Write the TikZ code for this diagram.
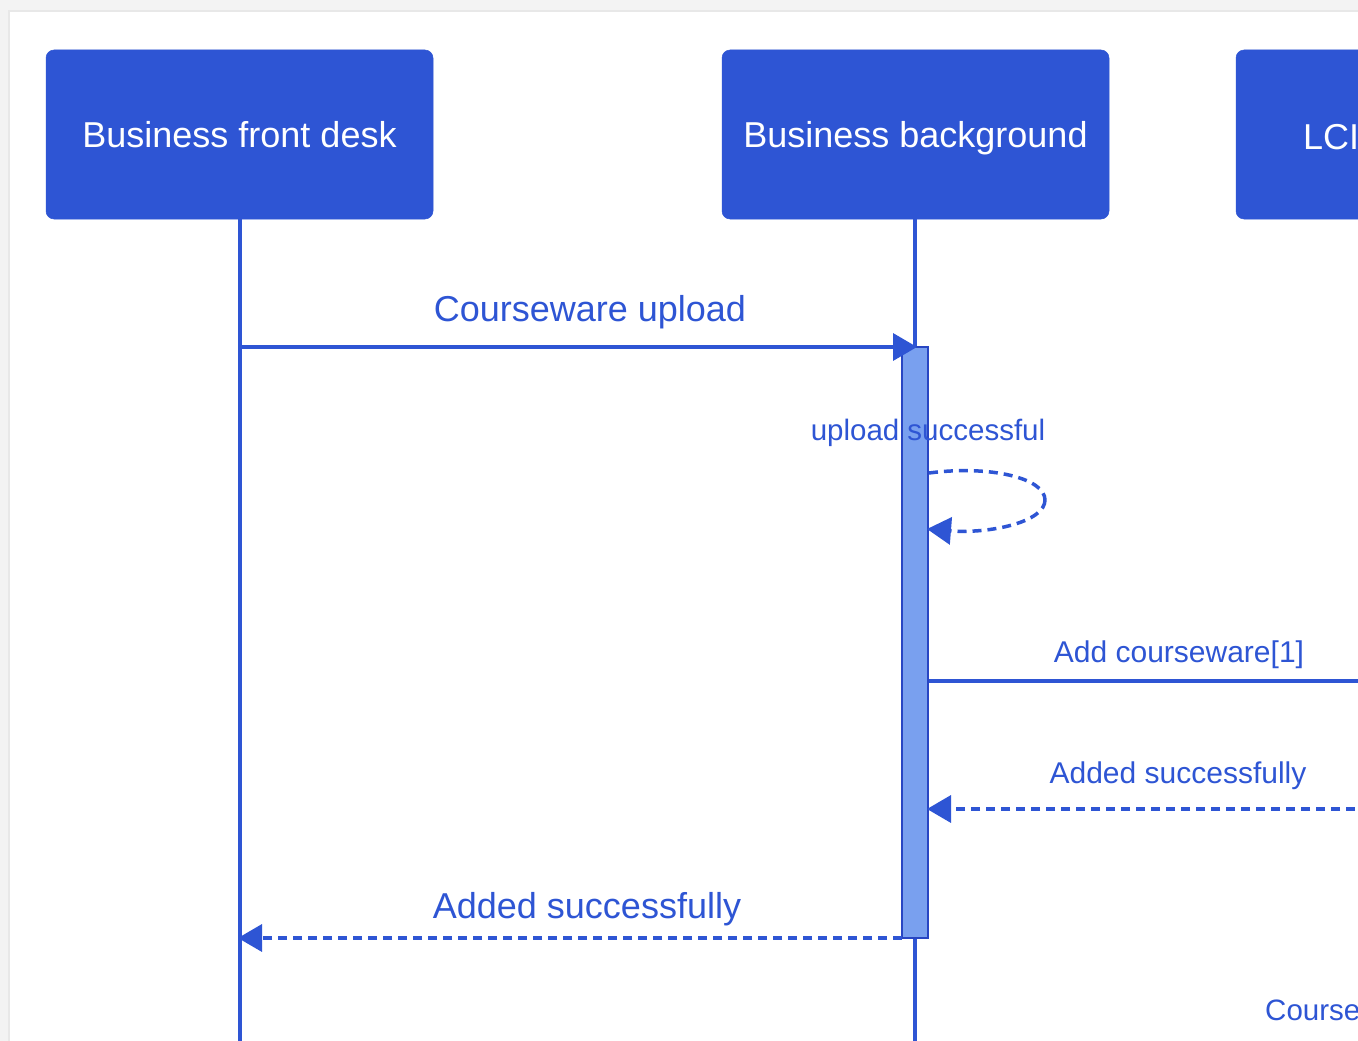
\documentclass[tikz,border=0pt]{standalone}
\usepackage{fontspec}
\setmainfont{Liberation Sans}
\usetikzlibrary{arrows.meta}
\definecolor{seqblue}{RGB}{46,85,212}
\definecolor{actfill}{RGB}{121,160,239}
\definecolor{actline}{RGB}{40,70,195}
\definecolor{pagegray}{RGB}{243,243,243}
\definecolor{shadowgray}{RGB}{232,232,232}
\newcommand{\fs}[1]{\fontsize{#1}{#1}\selectfont}
\tikzset{
  actor/.style={draw=seqblue, fill=seqblue, rounded corners=8pt, minimum width=387pt, minimum height=169pt,
    text=white, font=\fs{36}, text height=25.8pt, text depth=0pt, inner sep=0pt, line width=0.5pt},
  lifeline/.style={draw=seqblue, line width=3.5pt},
  actbar/.style={draw=actline, fill=actfill, line width=2.2pt, minimum width=26pt, minimum height=591pt, inner sep=0pt},
  msg/.style={draw=seqblue, line width=3.5pt, -{Triangle[length=24pt,width=27pt]}},
  msgline/.style={draw=seqblue, line width=3.5pt},
  reply/.style={draw=seqblue, line width=3.5pt, dash pattern=on 9pt off 6pt, -{Triangle[length=24pt,width=27pt]}},
  replyline/.style={draw=seqblue, line width=3.5pt, dash pattern=on 9pt off 6pt},
  biglabel/.style={text=seqblue, font=\fs{36}, anchor=base, inner sep=0pt},
  smalllabel/.style={text=seqblue, font=\fs{30}, anchor=base, inner sep=0pt},
}
\begin{document}
\begin{tikzpicture}[x=1pt, y=-1pt]
\useasboundingbox (0,0) rectangle (1358,1041);
\clip (0,0) rectangle (1358,1041);
% page background and card
\fill[pagegray] (0,0) rectangle (1358,1041);
\fill[shadowgray] (8,10) rectangle (1400,1100);
\fill[white] (10,12) rectangle (1400,1100);

% actors
\node[actor] (fd) at (239.5,134.5) {Business front desk};
\node[actor] (bb) at (915.5,134.5) {Business background};
\node[actor] (lc) at (1429.5,134.5) {};
\node[text=white, font=\fs{36}, anchor=base west, inner sep=0pt] (lclabel) at (1303,149) {LCI};

% lifeline ends
\coordinate (fdend) at (240,1045);
\coordinate (bbend) at (915,1045);
\draw[lifeline] (fd.south -| fdend) -- (fdend);
\draw[lifeline] (bb.south -| bbend) -- (bbend);

% activation bar
\node[actbar] (act) at (915,642.5) {};

% message 1
\coordinate (m1s) at (240,347);
\coordinate (m1e) at (917,347);
\draw[msg] (m1s) -- (m1e);
\node[biglabel] (l1) at (590,321) {Courseware upload};

% self message
\node[smalllabel, font=\fs{29.5}] (l2) at (928,440) {upload successful};
\coordinate (s1) at (929,473);
\coordinate (s2) at (1045,500);
\coordinate (s3) at (927,529);
\draw[replyline] (s1) .. controls (990,465) and (1045,478) .. (s2);
\draw[reply] (s2) .. controls (1045,522) and (990,534) .. (s3);

% add courseware
\coordinate (m3s) at (929,681);
\coordinate (m3e) at (1370,681);
\draw[msgline] (m3s) -- (m3e);
\node[smalllabel] (l3) at (1179,662) {Add courseware[1]};

% added successfully (from right)
\coordinate (m4s) at (1370,809);
\coordinate (m4e) at (927,809);
\draw[reply] (m4s) -- (m4e);
\node[smalllabel] (l4) at (1178,783) {Added successfully};

% added successfully (to front desk)
\coordinate (m5s) at (902,938);
\coordinate (m5e) at (238,938);
\draw[reply] (m5s) -- (m5e);
\node[biglabel] (l5) at (587,918) {Added successfully};

% partially visible label
\node[text=seqblue, font=\fs{29.5}, anchor=base west, inner sep=0pt] (l6) at (1265,1020) {Course};
\end{tikzpicture}
\end{document}
